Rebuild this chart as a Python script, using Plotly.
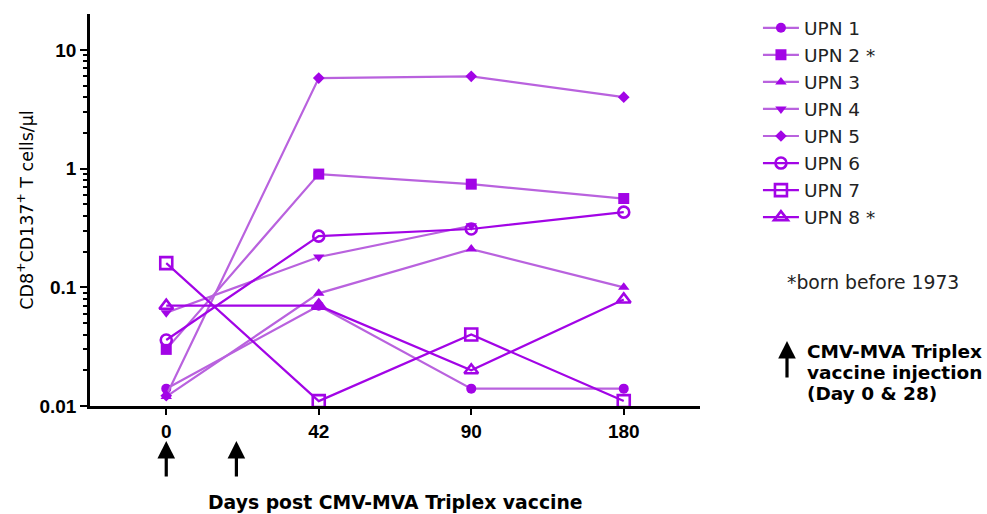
import plotly.graph_objects as go

days = ["0", "42", "90", "180"]
day_pos = [0, 1, 2, 3]

upn1 = [0.014, 0.070, 0.014, 0.014]
upn2 = [0.030, 0.90, 0.74, 0.56]
upn3 = [0.012, 0.089, 0.21, 0.10]
upn4 = [0.061, 0.18, 0.33, None]
upn5 = [0.0122, 5.8, 6.0, 4.0]
upn6 = [0.036, 0.27, 0.31, 0.43]
upn7 = [0.16, 0.011, 0.040, 0.011]
upn8 = [0.070, 0.070, 0.020, 0.079]

names = ["UPN 1", "UPN 2 *", "UPN 3", "UPN 4", "UPN 5", "UPN 6", "UPN 7", "UPN 8 *"]
series = [upn1, upn2, upn3, upn4, upn5, upn6, upn7, upn8]
symbols = ["circle", "square", "triangle-up", "triangle-down", "diamond",
           "circle-open", "square-open", "triangle-up-open"]
sizes = [10, 11, 10, 10, 9, 11, 12, 12]

y_major = [0.01, 0.1, 1, 10]
y_major_labels = ["0.01", "0.1", "1", "10"]
y_minor = [m * d for d in [0.01, 0.1, 1, 10] for m in range(2, 10) if m * d < 20]

# injection arrows (axis positions for day 0 and day 28)
arrow_pos = [0, 0.46]

MARK = "#A204E6"
LIGHT = "#B962DE"
SANS = "DejaVu Sans, sans-serif"
ARIAL = "Liberation Sans, Arial, sans-serif"

fig = go.Figure()
for nm, ys, sym, sz in zip(names, series, symbols, sizes):
    is_open = sym.endswith("open")
    fig.add_trace(go.Scatter(
        x=day_pos, y=ys, name=nm, mode="lines+markers",
        line=dict(color=MARK if is_open else LIGHT, width=2.2),
        marker=dict(symbol=sym, size=sz, color=MARK,
                    line=dict(color=MARK, width=2.6 if is_open else 0)),
        connectgaps=False,
    ))

fig.update_layout(
    width=987, height=514,
    margin=dict(l=90, r=287, t=14, b=108, autoexpand=False),
    paper_bgcolor="white", plot_bgcolor="white",
    font=dict(family=ARIAL, color="black"),
    showlegend=True,
    legend=dict(x=1.095, y=1.012, xanchor="left", yanchor="top",
                font=dict(size=18.5, color="#222222", family=SANS),
                itemwidth=36, tracegroupgap=0, bgcolor="rgba(0,0,0,0)"),
    xaxis=dict(range=[-0.5, 3.5], tickmode="array", tickvals=day_pos,
               ticktext=[f"<b>{d}</b>" for d in days],
               showline=True, linecolor="black", linewidth=2.5,
               ticks="outside", ticklen=6, tickwidth=2, tickcolor="black",
               tickfont=dict(size=19), showgrid=False, zeroline=False),
    yaxis=dict(type="log", range=[-2, 1.303], tickmode="array",
               tickvals=y_major,
               ticktext=[f"<b>{t}</b>" for t in y_major_labels],
               showline=True, linecolor="black", linewidth=2.5,
               ticks="outside", ticklen=7, tickwidth=2, tickcolor="black",
               tickfont=dict(size=19), showgrid=False, zeroline=False,
               minor=dict(tickmode="array", tickvals=y_minor, ticks="outside",
                          ticklen=4, tickwidth=1.5, tickcolor="black", showgrid=False),
               title=dict(text="CD8<sup>+</sup>CD137<sup>+</sup> T cells/µl",
                          font=dict(size=17.5, family=SANS), standoff=2)),
)

for p in arrow_pos:
    fig.add_annotation(x=p, xref="x", y=(406 - 441) / 392, yref="paper",
                       ax=0, ay=37, axref="pixel", ayref="pixel",
                       showarrow=True, arrowhead=2, arrowsize=1.1,
                       arrowwidth=3.2, arrowcolor="black", text="", standoff=0)

fig.add_annotation(x=0.5, xref="paper", y=(406 - 503) / 392, yref="paper",
                   text="<b>Days post CMV-MVA Triplex vaccine</b>",
                   showarrow=False, font=dict(size=18.8, family=SANS), yanchor="middle")

fig.add_annotation(x=(785 - 90) / 610, xref="paper", y=(406 - 282) / 392, yref="paper",
                   text="*born before 1973", showarrow=False, xanchor="left",
                   yanchor="middle", font=dict(size=18.8, color="#222222", family=SANS))

fig.add_annotation(x=(787 - 90) / 610, xref="paper", y=(406 - 341) / 392, yref="paper",
                   ax=0, ay=38, axref="pixel", ayref="pixel",
                   showarrow=True, arrowhead=2, arrowsize=1.1,
                   arrowwidth=3.2, arrowcolor="black", text="", standoff=0)

note_lines = ["CMV-MVA Triplex", "vaccine injection", "(Day 0 &amp; 28)"]
for k, ln in enumerate(note_lines):
    fig.add_annotation(x=(805 - 90) / 610, xref="paper", y=(406 - (351 + 21 * k)) / 392,
                       yref="paper", text=f"<b>{ln}</b>", showarrow=False,
                       xanchor="left", yanchor="middle", align="left",
                       font=dict(size=18.5, color="black", family=SANS))

fig.write_html("out.html")
